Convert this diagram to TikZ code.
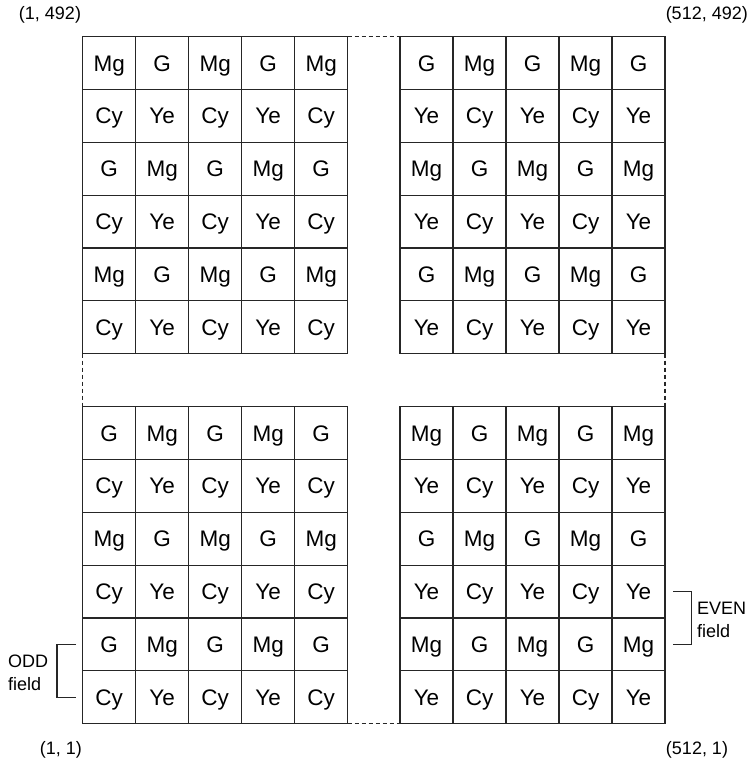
\documentclass[tikz,border=0pt]{standalone}
\usepackage{fontspec}
\setmainfont{Liberation Sans}
\newcommand\cellrow[5]{%
  \foreach \t [count=\c from 1] in {#5} {%
    \node[cell] (#1-#4-\c) at ({#2+(\c-1)*53},{#3+(#4-1)*52.83}) {\t};
  }%
}
\begin{document}
\begin{tikzpicture}[x=1pt,y=-1pt,
  cell/.style={draw=black!85, line width=1.1pt, minimum width=53pt, minimum height=52.83pt,
    inner sep=0pt, outer sep=0pt, anchor=north west, text height=16pt, text depth=0pt,
    font=\fontsize{22.5}{26}\selectfont},
  lbl/.style={font=\fontsize{18}{23}\selectfont, inner sep=0pt},
  dotline/.style={draw=black!85, line width=1.1pt, dash pattern=on 4pt off 3pt},
  brk/.style={draw=black!85, line width=1.1pt}]
\useasboundingbox (0,0) rectangle (752,763);

% top-left block
\cellrow{TL}{82.7}{36.7}{1}{Mg,G,Mg,G,Mg}
\cellrow{TL}{82.7}{36.7}{2}{Cy,Ye,Cy,Ye,Cy}
\cellrow{TL}{82.7}{36.7}{3}{G,Mg,G,Mg,G}
\cellrow{TL}{82.7}{36.7}{4}{Cy,Ye,Cy,Ye,Cy}
\cellrow{TL}{82.7}{36.7}{5}{Mg,G,Mg,G,Mg}
\cellrow{TL}{82.7}{36.7}{6}{Cy,Ye,Cy,Ye,Cy}
% top-right block
\cellrow{TR}{400}{36.7}{1}{G,Mg,G,Mg,G}
\cellrow{TR}{400}{36.7}{2}{Ye,Cy,Ye,Cy,Ye}
\cellrow{TR}{400}{36.7}{3}{Mg,G,Mg,G,Mg}
\cellrow{TR}{400}{36.7}{4}{Ye,Cy,Ye,Cy,Ye}
\cellrow{TR}{400}{36.7}{5}{G,Mg,G,Mg,G}
\cellrow{TR}{400}{36.7}{6}{Ye,Cy,Ye,Cy,Ye}
% bottom-left block
\cellrow{BL}{82.7}{406.7}{1}{G,Mg,G,Mg,G}
\cellrow{BL}{82.7}{406.7}{2}{Cy,Ye,Cy,Ye,Cy}
\cellrow{BL}{82.7}{406.7}{3}{Mg,G,Mg,G,Mg}
\cellrow{BL}{82.7}{406.7}{4}{Cy,Ye,Cy,Ye,Cy}
\cellrow{BL}{82.7}{406.7}{5}{G,Mg,G,Mg,G}
\cellrow{BL}{82.7}{406.7}{6}{Cy,Ye,Cy,Ye,Cy}
% bottom-right block
\cellrow{BR}{400}{406.7}{1}{Mg,G,Mg,G,Mg}
\cellrow{BR}{400}{406.7}{2}{Ye,Cy,Ye,Cy,Ye}
\cellrow{BR}{400}{406.7}{3}{G,Mg,G,Mg,G}
\cellrow{BR}{400}{406.7}{4}{Ye,Cy,Ye,Cy,Ye}
\cellrow{BR}{400}{406.7}{5}{Mg,G,Mg,G,Mg}
\cellrow{BR}{400}{406.7}{6}{Ye,Cy,Ye,Cy,Ye}

% dashed continuation lines
\draw[dotline] (TL-1-5.north east) -- (TR-1-1.north west);
\draw[dotline] (BL-6-5.south east) -- (BR-6-1.south west);
\draw[dotline] (TL-6-1.south west) -- (BL-1-1.north west);
\draw[dotline] (TR-6-5.south east) -- (BR-1-5.north east);

% field brackets
\draw[brk] ([xshift=-6.7pt]BL-5-1.west) -- ++(-19,0) |- ([xshift=-6.7pt]BL-6-1.west);
\draw[brk] ([xshift=8.3pt]BR-4-5.east) -- ++(18.4,0) |- ([xshift=8.3pt]BR-5-5.east);

\node[lbl, anchor=west, align=left] (odd) at (8,673) {ODD\\field};
\node[lbl, anchor=west, align=left] (even) at (697,620) {EVEN\\field};

% corner coordinates
\node[lbl] (c1) at (50,15) {(1, 492)};
\node[lbl, anchor=east] (c2) at (748,15) {(512, 492)};
\node[lbl] (c3) at (61,750) {(1, 1)};
\node[lbl] (c4) at (697,750) {(512, 1)};
\end{tikzpicture}
\end{document}
